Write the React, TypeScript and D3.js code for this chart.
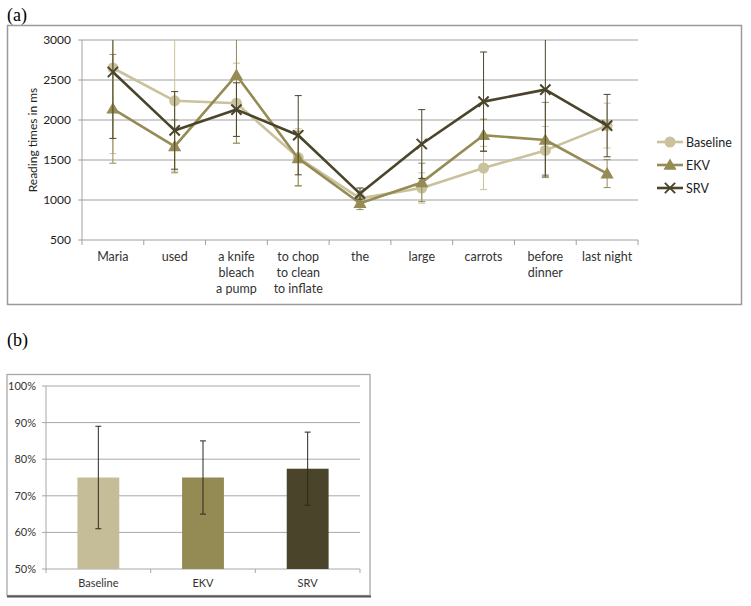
import React from "react";
import * as d3 from "d3";

const categories = ["Maria", "used", "a knife\nbleach\na pump", "to chop\nto clean\nto inflate", "the", "large", "carrots", "before\ndinner", "last night"];
const seriesNames = ["Baseline", "EKV", "SRV"];
const baselineRT = [2650, 2240, 2210, 1530, 1020, 1150, 1400, 1620, 1930];
const ekvRT = [2140, 1670, 2560, 1520, 960, 1220, 1810, 1750, 1330];
const srvRT = [2600, 1870, 2130, 1810, 1080, 1700, 2230, 2380, 1930];
const baselineErr = [1070, 880, 500, 360, 60, 190, 270, 300, 280];
const ekvErr = [680, 330, 850, 340, 80, 240, 200, 470, 175];
const srvErr = [830, 485, 335, 495, 70, 430, 620, 1080, 390];
const rtTicks = [500, 1000, 1500, 2000, 2500, 3000];

const accuracy = [0.75, 0.75, 0.774];
const accuracyErr = [0.14, 0.10, 0.10];
const pctTicks = [0.5, 0.6, 0.7, 0.8, 0.9, 1.0];

const lineColors = ["#C9C29C", "#958B55", "#4A452A"];
const barColors = ["#C4BD97", "#948A54", "#4A452A"];
const FONT = "Lato, 'Open Sans', sans-serif";

export default function App() {
  // Chart (a)
  const ax = { l: 82, r: 638, t: 40, b: 240 };
  const xA = d3.scaleBand<string>().domain(categories).range([ax.l, ax.r]);
  const yA = d3.scaleLinear().domain([500, 3000]).range([ax.b, ax.t]);
  const rtData = [baselineRT, ekvRT, srvRT];
  const rtErr = [baselineErr, ekvErr, srvErr];
  const cx = (c: string) => (xA(c) as number) + xA.bandwidth() / 2;
  const line = d3.line<number>().x((_, i) => cx(categories[i])).y((v) => yA(v));
  const triPath = d3.symbol(d3.symbolTriangle, 75)() as string;
  const xPath = d3.symbol(d3.symbolX, 70)() as string;
  const circPath = d3.symbol(d3.symbolCircle, 95)() as string;

  const marker = (si: number, x: number, y: number, key: string) => {
    if (si === 0) return <path key={key} d={circPath} transform={`translate(${x},${y})`} fill={lineColors[0]} />;
    if (si === 1) return <path key={key} d={triPath} transform={`translate(${x},${y + 1})`} fill={lineColors[1]} />;
    return <path key={key} d={xPath} transform={`translate(${x},${y})`} fill="none" stroke={lineColors[2]} strokeWidth={2} />;
  };

  // Chart (b)
  const bx = { l: 46, r: 360, t: 386, b: 569 };
  const xB = d3.scaleBand<string>().domain(seriesNames).range([bx.l, bx.r]);
  const yB = d3.scaleLinear().domain([0.5, 1.0]).range([bx.b, bx.t]);
  const barW = xB.bandwidth() * 0.4;

  return (
    <svg width={751} height={606} style={{ position: "absolute", left: 0, top: 0, background: "#fff" }}>
      <defs>
        <clipPath id="plotA">
          <rect x={ax.l - 10} y={ax.t} width={ax.r - ax.l + 20} height={ax.b - ax.t + 10} />
        </clipPath>
      </defs>
      {/* Panel labels */}
      <text x={7} y={21} fontFamily="'Liberation Serif', 'DejaVu Serif', serif" fontSize={18} fill="#000">(a)</text>
      <text x={7} y={346} fontFamily="'Liberation Serif', 'DejaVu Serif', serif" fontSize={18} fill="#000">(b)</text>

      {/* Chart (a) frame */}
      <rect x={7.5} y={25.5} width={734} height={279} fill="#fff" stroke="#9a9a9a" strokeWidth={1.5} />
      {/* gridlines */}
      {rtTicks.map((t) => (
        <g key={t}>
          {t > 500 && <line x1={ax.l} x2={ax.r} y1={yA(t)} y2={yA(t)} stroke="#a0a0a0" strokeWidth={1} />}
          <line x1={ax.l - 4} x2={ax.l} y1={yA(t)} y2={yA(t)} stroke="#a0a0a0" strokeWidth={1} />
          <text x={71} y={yA(t) + 4} textAnchor="end" fontFamily={FONT} fontSize={12} fill="#222">{t}</text>
        </g>
      ))}
      <line x1={ax.l} x2={ax.l} y1={ax.t} y2={ax.b} stroke="#a0a0a0" strokeWidth={1} />
      <line x1={ax.l} x2={ax.r} y1={ax.b} y2={ax.b} stroke="#a0a0a0" strokeWidth={1} />
      {categories.map((c, i) => (
        <line key={"tk" + i} x1={xA(c) as number} x2={xA(c) as number} y1={ax.b} y2={ax.b + 5} stroke="#a0a0a0" />
      ))}
      <line x1={ax.r} x2={ax.r} y1={ax.b} y2={ax.b + 5} stroke="#a0a0a0" />
      {categories.map((c, i) => (
        <text key={"cl" + i} x={cx(c)} y={261} textAnchor="middle" fontFamily={FONT} fontSize={12.5} fill="#333">
          {c.split("\n").map((s, j) => (
            <tspan key={j} x={cx(c)} dy={j === 0 ? 0 : 16}>{s}</tspan>
          ))}
        </text>
      ))}
      <text transform={`translate(37,140) rotate(-90)`} textAnchor="middle" fontFamily={FONT} fontSize={12} fill="#222">Reading times in ms</text>

      {/* series */}
      {rtData.map((vals, si) => (
        <g key={"s" + si}>
          <g clipPath="url(#plotA)">
            {vals.map((v, i) => {
              const x = cx(categories[i]);
              const e = rtErr[si][i];
              const y1 = yA(v + e), y2 = yA(v - e);
              return (
                <g key={i} stroke={lineColors[si]} strokeWidth={1}>
                  <line x1={x} x2={x} y1={y1} y2={y2} />
                  <line x1={x - 3.5} x2={x + 3.5} y1={y1} y2={y1} />
                  <line x1={x - 3.5} x2={x + 3.5} y1={y2} y2={y2} />
                </g>
              );
            })}
          </g>
          <path d={line(vals) as string} fill="none" stroke={lineColors[si]} strokeWidth={2.6} strokeLinejoin="round" />
          {vals.map((v, i) => marker(si, cx(categories[i]), yA(v), "m" + si + i))}
        </g>
      ))}

      {/* legend */}
      {seriesNames.map((n, si) => {
        const y = 142 + si * 23;
        return (
          <g key={"lg" + si}>
            <line x1={657} x2={683} y1={y} y2={y} stroke={lineColors[si]} strokeWidth={2.6} />
            {marker(si, 670, y, "lm" + si)}
            <text x={686} y={y + 4.5} fontFamily={FONT} fontSize={12.5} fill="#222">{n}</text>
          </g>
        );
      })}

      {/* Chart (b) frame */}
      <rect x={7} y={374.5} width={363} height={221} fill="#fff" stroke="#a8a8a8" strokeWidth={1.3} />
      <line x1={7} x2={371} y1={596.5} y2={596.5} stroke="#555" strokeWidth={2} />
      {pctTicks.map((t) => (
        <g key={"p" + t}>
          <line x1={bx.l} x2={bx.r} y1={yB(t)} y2={yB(t)} stroke="#a8a8a8" strokeWidth={1} />
          <line x1={bx.l - 4} x2={bx.l} y1={yB(t)} y2={yB(t)} stroke="#a8a8a8" strokeWidth={1} />
          <text x={36} y={yB(t) + 4} textAnchor="end" fontFamily={FONT} fontSize={11} fill="#333">{Math.round(t * 100)}%</text>
        </g>
      ))}
      <line x1={bx.l} x2={bx.l} y1={bx.t} y2={bx.b} stroke="#a8a8a8" strokeWidth={1} />
      {seriesNames.map((n, i) => (
        <line key={"bt" + i} x1={xB(n) as number} x2={xB(n) as number} y1={bx.b} y2={bx.b + 4} stroke="#a8a8a8" />
      ))}
      <line x1={bx.r} x2={bx.r} y1={bx.b} y2={bx.b + 4} stroke="#a8a8a8" />
      {seriesNames.map((n, i) => {
        const c = (xB(n) as number) + xB.bandwidth() / 2;
        const v = accuracy[i];
        const e = accuracyErr[i];
        return (
          <g key={"bar" + i}>
            <rect x={c - barW / 2} y={yB(v)} width={barW} height={yB(0.5) - yB(v)} fill={barColors[i]} />
            <g stroke="#2a2a1e" strokeWidth={1}>
              <line x1={c} x2={c} y1={yB(v + e)} y2={yB(v - e)} />
              <line x1={c - 3} x2={c + 3} y1={yB(v + e)} y2={yB(v + e)} />
              <line x1={c - 3} x2={c + 3} y1={yB(v - e)} y2={yB(v - e)} />
            </g>
            <text x={c} y={587} textAnchor="middle" fontFamily={FONT} fontSize={11} fill="#333">{n}</text>
          </g>
        );
      })}
    </svg>
  );
}
